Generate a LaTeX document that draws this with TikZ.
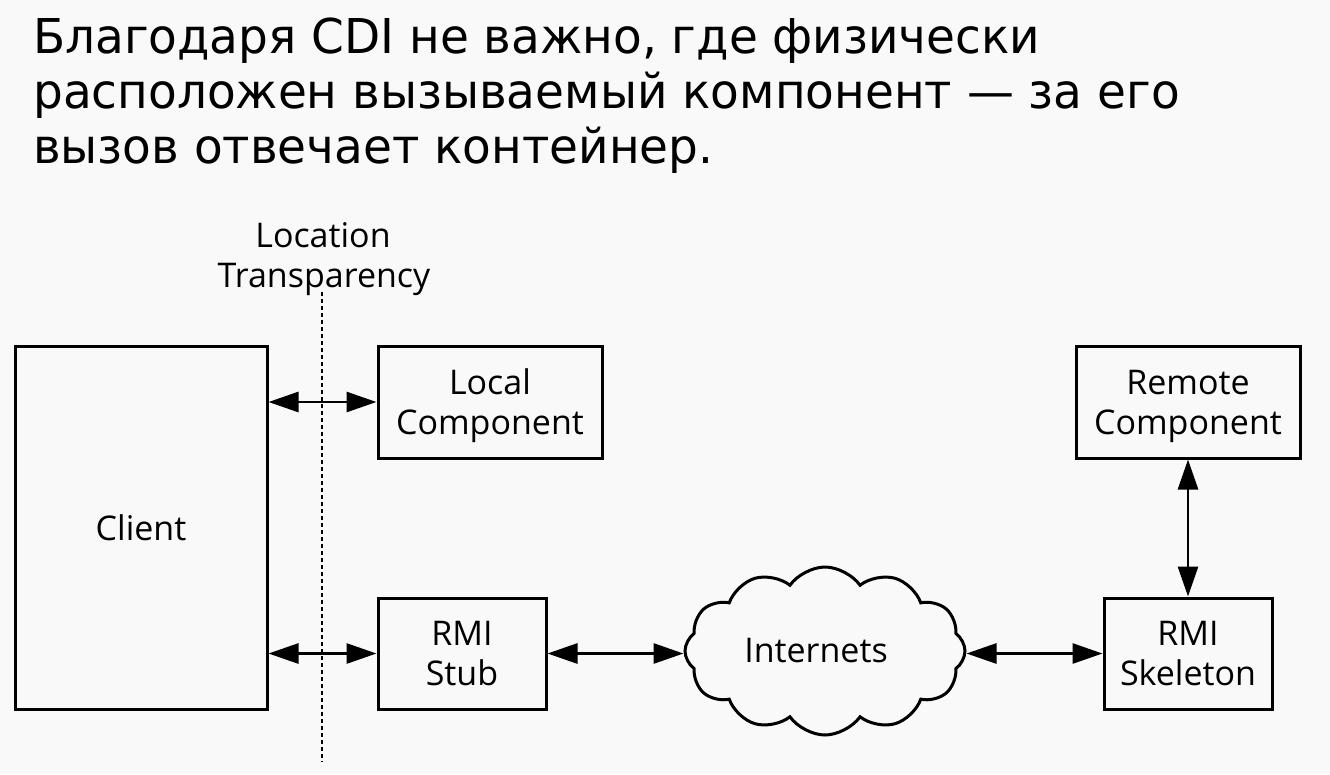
\documentclass[tikz,border=0pt]{standalone}
\usepackage{fontspec}
\setmainfont{Open Sans}
\newfontfamily\titlefont[FakeStretch=0.978]{DejaVu Sans}
\usetikzlibrary{arrows.meta,shapes.symbols}
\definecolor{bgcol}{HTML}{F9F9F9}
\newcommand{\mytopstrut}{\rule{0pt}{34pt}}
\newcommand{\mybotstrut}{\rule[-10pt]{0pt}{10pt}}
\tikzset{
  box/.style={draw=black, line width=3pt, align=center, inner sep=0pt,
    font=\fontsize{34}{40}\selectfont},
  biarrow/.style={line width=2.8pt, {Triangle[length=30pt,width=20pt]}-{Triangle[length=30pt,width=20pt]}},
  titletext/.style={anchor=base west, inner sep=0pt, font=\titlefont\fontsize{48}{55}\selectfont},
  labeltext/.style={anchor=base, inner sep=0pt, font=\fontsize{34}{40}\selectfont},
  dotline/.style={line width=2.7pt, dash pattern=on 4pt off 3pt},
}
\begin{document}
\begin{tikzpicture}[x=1pt,y=-1pt]
\fill[bgcol] (0,0) rectangle (1330,774);
\useasboundingbox (0,0) rectangle (1330,774);

\node[titletext] (t1) at (33,53) {Благодаря CDI не важно, где физически};
\node[titletext] (t2) at (33,108) {расположен вызываемый компонент — за его};
\node[titletext] (t3) at (33,163) {вызов отвечает контейнер.};

\node[labeltext] (lt) at (323,247) {Location};
\node[labeltext] (lt2) at (324,287) {Transparency};

\coordinate (dtop) at (322,292);
\coordinate (dbot) at (322,762);
\draw[dotline] (dtop) -- (dbot);

\node[box, minimum width=252pt, minimum height=363pt] (client) at (141,527.5) {Client};
\node[box, minimum width=224pt, minimum height=112pt] (local) at (490,402) {\mytopstrut Local\\Component\mybotstrut};
\node[box, minimum width=168pt, minimum height=111pt] (stub) at (462,653.5) {\mytopstrut RMI\\Stub\mybotstrut};
\node[box, minimum width=224pt, minimum height=112pt] (remote) at (1188,402) {\mytopstrut Remote\\Component\mybotstrut};
\node[box, minimum width=168pt, minimum height=111pt] (skel) at (1188,653.5) {\mytopstrut RMI\\Skeleton\mybotstrut};
\node[cloud, draw=black, line width=3pt, cloud puffs=12, cloud puff arc=110, aspect=1.75,
  minimum width=280pt, minimum height=168pt, inner sep=0pt,
  font=\fontsize{34}{40}\selectfont] (cloud) at (825,651) {Internets\hspace*{18pt}};

\draw[biarrow] (local.west -| client.east) -- (local.west);
\draw[biarrow] (stub.west -| client.east) -- (stub.west);
\draw[biarrow] (stub.east) -- (stub.east -| cloud.west);
\draw[biarrow] (skel.west -| cloud.east) -- (skel.west);
\draw[biarrow] (skel.north |- remote.south) -- (skel.north);
\end{tikzpicture}
\end{document}
